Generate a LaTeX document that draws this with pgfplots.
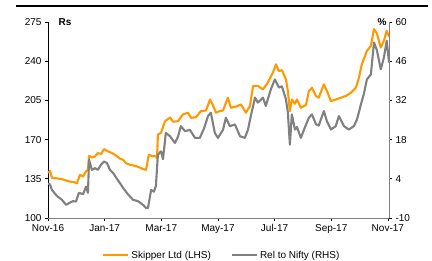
\documentclass[border=0pt]{standalone}
\usepackage{pgfplots}
\pgfplotsset{compat=1.18}
\usepackage{fontspec}
\setmainfont{Liberation Sans}
\definecolor{skorange}{RGB}{255,153,0}
\definecolor{skgray}{RGB}{128,128,128}
\begin{document}
\begin{tikzpicture}
\useasboundingbox (-48pt,-43pt) rectangle (384pt,218pt);
\draw[line width=2pt] (-32pt,212pt) -- (380pt,212pt);
\pgfplotsset{
  common/.style={
    at={(0pt,0pt)}, anchor=south west, scale only axis,
    width=341pt, height=196pt,
    xmin=0, xmax=12.04,
    font=\fontsize{10}{12}\selectfont,
    /pgf/number format/assume math mode=true,
    tick align=outside, major tick length=3pt,
    tick style={black, line width=0.6pt},
    axis line style={line width=0.8pt},
  }
}
\begin{axis}[common,
  axis y line*=left, axis x line*=bottom,
  x axis line style={skgray},
  ymin=100, ymax=275, ytick={100,135,170,205,240,275},
  xtick={0,2,4,6,8,10,12},
  xticklabels={Nov-16,Jan-17,Mar-17,May-17,Jul-17,Sep-17,Nov-17},
  clip=false,
]
\addplot[skorange, line width=2.1pt, line join=round] coordinates {
(0,140.4) (0.07,142) (0.14,135.9) (0.28,135.5) (0.42,135) (0.49,134.7) (0.64,133.5)
(0.78,132.5) (0.92,132) (1.02,131) (1.13,138.6) (1.24,137) (1.31,140.6) (1.41,143)
(1.45,155.5) (1.55,154) (1.66,155) (1.76,158) (1.87,157) (1.98,161.5) (2.12,159.5)
(2.26,158) (2.36,156.5) (2.54,153) (2.65,152) (2.75,149) (2.89,147.5) (3.07,146.6)
(3.25,145) (3.35,143.7) (3.46,143) (3.56,156.5) (3.71,155) (3.81,155.5) (3.85,153)
(3.88,174.5) (3.99,176) (4.13,186.4) (4.31,189.7) (4.41,186) (4.59,186.4) (4.76,192.4)
(4.94,194) (5.05,189.4) (5.22,190) (5.4,195.4) (5.58,196) (5.72,205.8) (5.82,201)
(5.93,194) (6.07,195.5) (6.18,196) (6.35,207.4) (6.46,198.4) (6.64,199.5) (6.81,201.4)
(6.99,194) (7.13,200) (7.24,217.8) (7.41,218) (7.59,214.8) (7.76,220.8) (7.94,229.8)
(8.05,237.2) (8.15,231.2) (8.26,232) (8.4,223.8) (8.47,213.3) (8.54,195.4) (8.61,205.8)
(8.72,202) (8.79,205.8) (8.93,198.4) (9.11,201) (9.21,213.3) (9.32,216.3) (9.46,209)
(9.56,207.4) (9.74,219.3) (9.85,213.3) (9.99,204.3) (10.16,205.8) (10.34,207.4)
(10.52,209) (10.69,211.8) (10.87,216.3) (10.98,225.3) (11.08,237.2) (11.26,249.2)
(11.4,253.7) (11.51,268.6) (11.61,265) (11.75,252.2) (11.86,258.2) (11.96,267.1)
(12.04,262)
};
\node[anchor=west, font=\fontsize{10}{12}\selectfont\bfseries] at (rel axis cs:0,1) [xshift=7pt] {Rs};
\node[anchor=east, font=\fontsize{10}{12}\selectfont\bfseries] at (rel axis cs:1,1) [xshift=1pt] {\%};
\end{axis}
\begin{axis}[common,
  axis y line*=right, axis x line=none,
  y axis line style={skgray},
  ymin=-10, ymax=60, ytick={-10,4,18,32,46,60},
  legend style={at={(0.51,-0.19)}, anchor=center, draw=none, fill=none,
    legend columns=2, font=\fontsize{10}{12}\selectfont,
    /tikz/every even column/.append style={column sep=18pt}},
  legend image code/.code={\draw[#1] (0pt,0pt) -- (25pt,0pt);},
]
\addlegendimage{skorange, line width=2.1pt}
\addlegendentry{Skipper Ltd (LHS)}
\addplot[skgray, line width=2.1pt, line join=round] coordinates {
(0,2.2) (0.07,2) (0.14,0) (0.28,-1.7) (0.35,-2.4) (0.49,-3.5) (0.64,-5.3) (0.78,-4.5)
(0.88,-4) (0.99,-4.1) (1.09,-1) (1.24,-1.5) (1.34,1.2) (1.41,-1) (1.45,10.8) (1.55,7.2)
(1.66,7.8) (1.76,7.2) (1.87,9) (1.98,10.2) (2.08,9.6) (2.19,7.2) (2.29,6.2) (2.47,3.5)
(2.65,0.8) (2.82,-1.5) (3,-3.5) (3.18,-4) (3.35,-5.3) (3.46,-6.4) (3.53,-6.5) (3.64,0)
(3.74,-0.6) (3.81,1.5) (3.88,12.6) (3.99,13.8) (4.06,11) (4.16,20.4) (4.31,19.2)
(4.48,16.8) (4.59,19) (4.69,22.8) (4.84,21) (5.01,21.5) (5.19,18.6) (5.36,18.6)
(5.51,22) (5.65,26.4) (5.75,27.6) (5.89,20.4) (6,18.6) (6.18,21.5) (6.28,25.8)
(6.42,22.8) (6.6,23.4) (6.78,19.2) (6.95,18.6) (7.06,21.5) (7.16,26.4) (7.31,33)
(7.41,31.2) (7.59,33) (7.69,30) (7.87,36) (8.01,39.5) (8.15,36.6) (8.26,37) (8.4,32.4)
(8.47,27.6) (8.54,16.2) (8.61,27) (8.72,21.6) (8.79,22.5) (8.93,18.6) (9.04,21.6)
(9.21,25.8) (9.32,27) (9.46,23.5) (9.56,23) (9.74,28.2) (9.85,24.5) (9.99,21.6)
(10.16,22.8) (10.27,26.4) (10.45,22.8) (10.62,21.6) (10.8,22.8) (10.91,25.2)
(11.05,30.6) (11.15,34.2) (11.26,39.5) (11.4,41.3) (11.51,52.7) (11.61,50)
(11.75,43.1) (11.86,47.3) (11.96,53.3) (12.04,45.5)
};
\addlegendentry{Rel to Nifty (RHS)}
\end{axis}
\end{tikzpicture}
\end{document}
